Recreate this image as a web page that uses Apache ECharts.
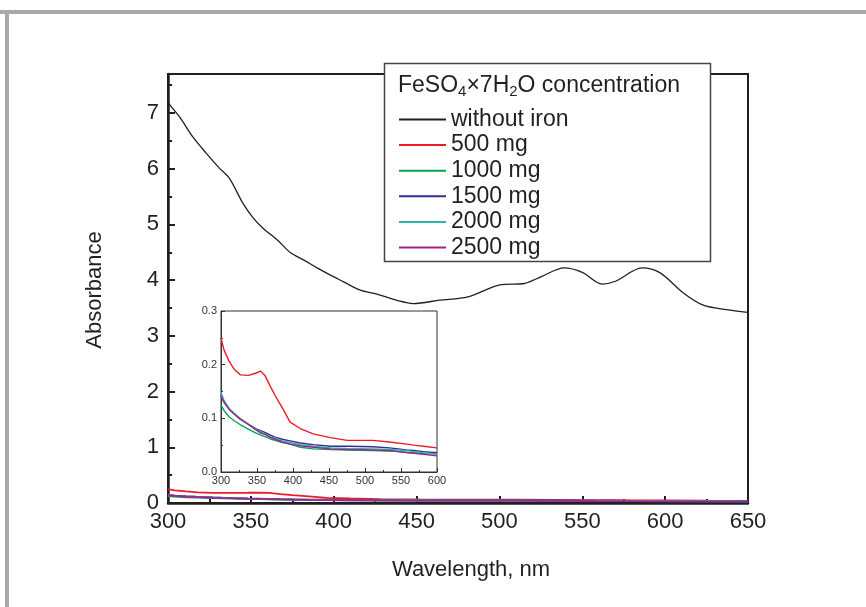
<!DOCTYPE html>
<html>
<head>
<meta charset="utf-8">
<script src="https://cdn.jsdelivr.net/npm/echarts@6/dist/echarts.min.js"></script>
<style>
  html, body { margin: 0; padding: 0; background: #fff; }
  #chart { width: 866px; height: 607px; }
</style>
</head>
<body>
<div id="chart"></div>
<script>
// spectrum without iron (main plot)
var blackX = [300, 301, 307, 315, 323, 331, 337, 345, 351, 357, 366, 374, 382, 390, 398, 406, 416, 426, 439, 448,
  464, 481, 501, 515, 525, 539, 550, 562, 570, 586, 597, 611, 623, 637, 650];
var blackY = [7.2, 7.15, 6.93, 6.57, 6.28, 6.01, 5.83, 5.39, 5.13, 4.94, 4.72, 4.49, 4.36, 4.22, 4.09, 3.97, 3.82, 3.75, 3.63, 3.58,
  3.64, 3.70, 3.92, 3.94, 4.06, 4.22, 4.14, 3.93, 3.98, 4.22, 4.13, 3.77, 3.55, 3.47, 3.42];

// iron-added samples
var waveX = [300, 304, 311, 318, 327, 338, 348, 355, 361, 368, 375, 385, 396, 410, 428, 452, 475, 511, 534, 558, 568, 581, 600, 625, 650];
var red500 = [0.250, 0.228, 0.207, 0.192, 0.181, 0.180, 0.184, 0.188, 0.180, 0.161, 0.143, 0.120, 0.093, 0.081, 0.071, 0.064, 0.059, 0.059, 0.056, 0.052, 0.050, 0.048, 0.045, 0.040, 0.038];
var green1000 = [0.125, 0.115, 0.103, 0.096, 0.088, 0.080, 0.073, 0.069, 0.066, 0.062, 0.059, 0.055, 0.052, 0.046, 0.043, 0.042, 0.041, 0.040, 0.039, 0.037, 0.036, 0.035, 0.034, 0.032, 0.031];
var blue1500 = [0.145, 0.132, 0.118, 0.109, 0.099, 0.089, 0.081, 0.077, 0.074, 0.069, 0.065, 0.061, 0.058, 0.054, 0.051, 0.048, 0.048, 0.047, 0.045, 0.041, 0.040, 0.038, 0.036, 0.034, 0.033];
var cyan2000 = [0.148, 0.134, 0.119, 0.110, 0.099, 0.088, 0.080, 0.075, 0.071, 0.066, 0.062, 0.058, 0.055, 0.051, 0.048, 0.045, 0.044, 0.043, 0.042, 0.040, 0.038, 0.036, 0.033, 0.031, 0.030];
var magenta2500 = [0.141, 0.130, 0.117, 0.108, 0.098, 0.089, 0.079, 0.073, 0.070, 0.065, 0.061, 0.056, 0.052, 0.049, 0.046, 0.043, 0.042, 0.041, 0.040, 0.036, 0.035, 0.033, 0.030, 0.029, 0.028];

var names = ['without iron', '500 mg', '1000 mg', '1500 mg', '2000 mg', '2500 mg'];
var colors = ['#231f20', '#ed1c24', '#00a651', '#2e3192', '#2bb5ad', '#a3238e'];

var xTicks = [300, 350, 400, 450, 500, 550, 600, 650];
var insetXTicks = [300, 350, 400, 450, 500, 550, 600];
var insetYTicks = [0, 0.1, 0.2, 0.3];

function pairs(xs, ys, xmax) {
  var out = [];
  for (var i = 0; i < xs.length; i++) {
    if (xmax == undefined || xs[i] <= xmax) out.push([xs[i], ys[i]]);
  }
  return out;
}

var font = 'Liberation Sans, Arial, sans-serif';
var ink = '#231f20';

var chart = echarts.init(document.getElementById('chart'), null, { renderer: 'canvas' });

var coloured = [red500, green1000, blue1500, cyan2000, magenta2500];
var series = [{
  name: names[0], type: 'line', xAxisIndex: 0, yAxisIndex: 0,
  data: pairs(blackX, blackY), showSymbol: false, symbol: 'none', smooth: 0.3,
  lineStyle: { color: colors[0], width: 1.3 }, itemStyle: { color: colors[0] }, z: 3
}];
// main plot copies
for (var i = 0; i < coloured.length; i++) {
  series.push({
    name: names[i + 1], type: 'line', xAxisIndex: 0, yAxisIndex: 0,
    data: pairs(waveX, coloured[i]), symbol: 'none',
    lineStyle: { color: colors[i + 1], width: 1.8 }, itemStyle: { color: colors[i + 1] }, z: 3
  });
}
// inset copies
for (var i = 0; i < coloured.length; i++) {
  series.push({
    name: names[i + 1], type: 'line', xAxisIndex: 1, yAxisIndex: 2,
    data: pairs(waveX, coloured[i], 600), symbol: 'none',
    lineStyle: { color: colors[i + 1], width: 1.4 }, itemStyle: { color: colors[i + 1] }, z: 12
  });
}

chart.setOption({
  backgroundColor: '#ffffff',
  animation: false,
  textStyle: { fontFamily: font },
  grid: [{
    left: 168, top: 74, width: 580, height: 429,
    show: true, borderColor: ink, borderWidth: 2, backgroundColor: 'transparent'
  }, {
    left: 221, top: 311, width: 216, height: 161,
    show: true, borderColor: '#333', borderWidth: 1, backgroundColor: '#fff', z: 10
  }],
  xAxis: [{
    gridIndex: 0, type: 'value', min: 300, max: 650, interval: 50, position: 'bottom',
    axisLine: { show: true, lineStyle: { color: ink, width: 2.5 } },
    axisTick: { show: true, inside: true, length: 7, lineStyle: { color: ink, width: 2 } },
    minorTick: { show: true, splitNumber: 2, length: 4, lineStyle: { color: ink, width: 2 } },
    splitLine: { show: false },
    axisLabel: { color: ink, fontSize: 22, fontFamily: font, margin: 8 }
  }, {
    gridIndex: 1, type: 'value', min: 300, max: 600, interval: 50, z: 11, position: 'bottom',
    axisLine: { show: true, lineStyle: { color: '#333', width: 1 } },
    axisTick: { show: true, inside: true, length: 4, lineStyle: { color: '#333', width: 1 } },
    minorTick: { show: true, splitNumber: 2, length: 2, lineStyle: { color: '#333', width: 1 } },
    splitLine: { show: false },
    axisLabel: { color: '#333', fontSize: 11, fontFamily: font, margin: 3 }
  }],
  yAxis: [{
    gridIndex: 0, type: 'value', min: 0, max: 7.7, interval: 1, position: 'left',
    axisLine: { show: true, lineStyle: { color: ink, width: 2.5 } },
    axisTick: { show: true, inside: true, length: 7, lineStyle: { color: ink, width: 2 } },
    splitLine: { show: false },
    axisLabel: {
      color: ink, fontSize: 22, fontFamily: font, margin: 9,
      formatter: function (v) { return Number.isInteger(v) ? String(v) : ''; }
    }
  }, {
    // half-unit minor ticks on the same left axis
    gridIndex: 0, type: 'value', min: 0, max: 7.7, interval: 0.5, position: 'left', offset: 0,
    axisLine: { show: false },
    axisTick: { show: true, inside: true, length: 4, lineStyle: { color: ink, width: 2 } },
    splitLine: { show: false },
    axisLabel: { show: false }
  }, {
    gridIndex: 1, type: 'value', min: 0, max: 0.3, interval: 0.1, z: 11, position: 'left',
    axisLine: { show: true, lineStyle: { color: '#333', width: 1 } },
    axisTick: { show: true, inside: true, length: 4, lineStyle: { color: '#333', width: 1 } },
    minorTick: { show: true, splitNumber: 2, length: 2, lineStyle: { color: '#333', width: 1 } },
    splitLine: { show: false },
    axisLabel: {
      color: '#333', fontSize: 11, fontFamily: font, margin: 4,
      formatter: function (v) { return v.toFixed(1); }
    }
  }],
  legend: {
    data: names, orient: 'vertical', left: 394, top: 103, z: 60,
    icon: 'rect', itemWidth: 47, itemHeight: 2, itemGap: 2.6,
    selectedMode: false,
    textStyle: { color: ink, fontSize: 23, lineHeight: 23, fontFamily: font }
  },
  graphic: [
    // page frame
    { type: 'rect', shape: { x: 0, y: 10, width: 866, height: 4 }, style: { fill: '#a7a9ac' }, silent: true },
    { type: 'rect', shape: { x: 5, y: 10, width: 4, height: 597 }, style: { fill: '#a7a9ac' }, silent: true },
    // legend box
    { type: 'rect', z: 50, shape: { x: 384.5, y: 63.5, width: 326, height: 198 },
      style: { fill: '#fff', stroke: '#444', lineWidth: 1.5 }, silent: true },
    { type: 'text', z: 60, x: 398, y: 86,
      style: {
        text: '{m|FeSO}{s|4}{m|×7H}{s|2}{m|O concentration}',
        fill: ink, font: '23px ' + font, verticalAlign: 'middle',
        rich: {
          m: { fontSize: 23, lineHeight: 26, fontFamily: font, fill: ink },
          s: { fontSize: 15, lineHeight: 15, fontFamily: font, fill: ink, verticalAlign: 'bottom', padding: [0, 0, 0, 0] }
        }
      }, silent: true },
    // axis titles
    { type: 'text', z: 60, x: 471, y: 570,
      style: { text: 'Wavelength, nm', fill: ink, font: '22px ' + font, align: 'center', verticalAlign: 'middle' }, silent: true },
    { type: 'text', z: 60, x: 95, y: 290, rotation: Math.PI / 2,
      style: { text: 'Absorbance', fill: ink, font: '22px ' + font, align: 'center', verticalAlign: 'middle' }, silent: true }
  ],
  series: series
});
</script>
</body>
</html>
